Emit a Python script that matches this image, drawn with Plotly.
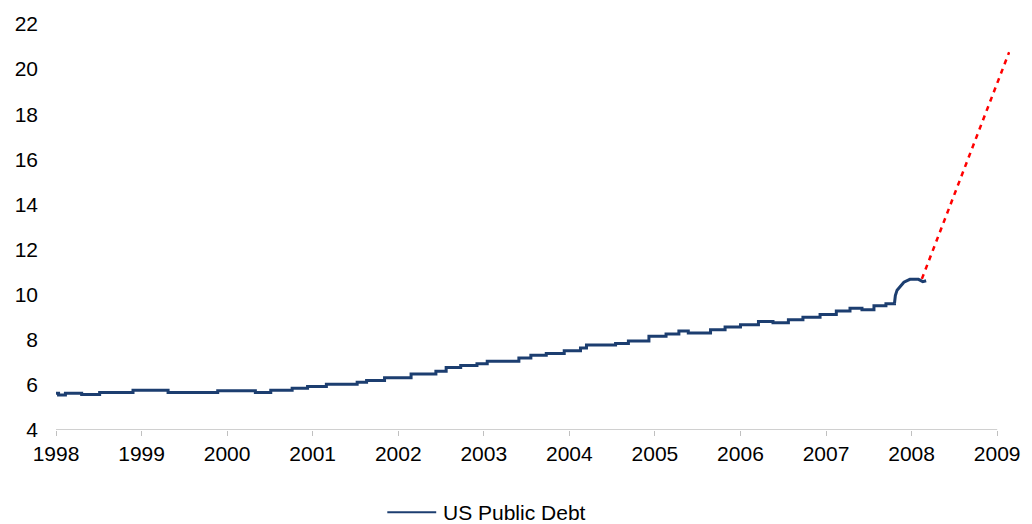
import plotly.graph_objects as go

# US public debt, step changes (decimal year -> value)
debt_year = [
    1998.00, 1998.03, 1998.11, 1998.30, 1998.51, 1998.90, 1999.31, 1999.89,
    2000.33, 2000.51, 2000.76, 2000.94, 2001.16, 2001.52, 2001.63, 2001.84,
    2002.15, 2002.44, 2002.56, 2002.73, 2002.92, 2003.04, 2003.41, 2003.55,
    2003.73, 2003.94, 2004.13, 2004.20, 2004.54, 2004.69, 2004.93, 2005.13,
    2005.28, 2005.39, 2005.65, 2005.82, 2006.00, 2006.21, 2006.38, 2006.56,
    2006.73, 2006.93, 2007.12, 2007.28, 2007.42, 2007.56, 2007.70, 2007.80,
    2007.81, 2007.83, 2007.87, 2007.91, 2007.98, 2008.08, 2008.13, 2008.17,
]
debt_value = [
    5.63, 5.55, 5.63, 5.57, 5.66, 5.76, 5.66, 5.74,
    5.66, 5.76, 5.85, 5.93, 6.03, 6.12, 6.19, 6.32,
    6.48, 6.60, 6.77, 6.86, 6.94, 7.05, 7.19, 7.31,
    7.39, 7.51, 7.64, 7.77, 7.83, 7.95, 8.16, 8.26,
    8.39, 8.30, 8.45, 8.57, 8.67, 8.81, 8.75, 8.89,
    9.00, 9.12, 9.28, 9.40, 9.33, 9.51, 9.60, 9.62,
    9.96, 10.20, 10.40, 10.55, 10.68, 10.68, 10.58, 10.62,
]
# index where the stepped history gives way to the late-2007 surge
SURGE_START = 47

# Projected path
proj_year = [2008.12, 2009.14]
proj_value = [10.70, 20.75]

year_ticks = list(range(1998, 2010))
year_labels = [str(y) for y in year_ticks]
y_ticks = list(range(4, 23, 2))

SERIES_NAME = "US Public Debt"
DEBT_COLOR = "#1c3e70"
FONT = "Liberation Sans, Arial, sans-serif"

fig = go.Figure()
fig.add_trace(go.Scatter(
    x=debt_year[:SURGE_START + 1], y=debt_value[:SURGE_START + 1],
    mode="lines", name=SERIES_NAME,
    line=dict(color=DEBT_COLOR, width=3, shape="hv"),
))
fig.add_trace(go.Scatter(
    x=debt_year[SURGE_START:], y=debt_value[SURGE_START:],
    mode="lines", name=SERIES_NAME,
    line=dict(color=DEBT_COLOR, width=3, shape="linear"),
))
fig.add_trace(go.Scatter(
    x=proj_year, y=proj_value, mode="lines", name="Projection",
    line=dict(color="#ff0000", width=2.5, dash="5px,5px"),
))

# baseline from first to last year tick
fig.add_shape(type="line", xref="x", yref="y",
              x0=year_ticks[0], x1=year_ticks[-1], y0=y_ticks[0], y1=y_ticks[0],
              line=dict(color="#c0c0c0", width=1.5), layer="below")

# legend key below the plot (kept inside the bottom margin)
PLOT_L, PLOT_W, PLOT_B, PLOT_H = 56, 956, 430, 410
key_y = -(513 - PLOT_B) / PLOT_H
fig.add_shape(type="line", xref="paper", yref="paper",
              x0=(388 - PLOT_L) / PLOT_W, x1=(437 - PLOT_L) / PLOT_W,
              y0=key_y, y1=key_y, line=dict(color=DEBT_COLOR, width=2))
fig.add_annotation(xref="paper", yref="paper", x=(442 - PLOT_L) / PLOT_W, y=key_y,
                   xanchor="left", yanchor="middle", showarrow=False,
                   text=SERIES_NAME, font=dict(family=FONT, size=21, color="#000000"))

fig.update_layout(
    width=1032, height=524,
    margin=dict(l=PLOT_L, r=1032 - PLOT_L - PLOT_W, t=20, b=524 - PLOT_B),
    paper_bgcolor="white", plot_bgcolor="white",
    font=dict(family=FONT, size=21, color="#000000"),
    showlegend=False,
)
fig.update_xaxes(
    range=[1998, 2009.15], tickvals=year_ticks, ticktext=year_labels,
    showgrid=False, zeroline=False, showline=False,
    ticks="outside", ticklen=5, tickwidth=1, tickcolor="#c0c0c0",
)
fig.update_yaxes(
    range=[4, 22], tickvals=y_ticks,
    showgrid=False, zeroline=False, showline=False,
    ticks="", ticklabelstandoff=17,
)

fig.write_html("out.html")
